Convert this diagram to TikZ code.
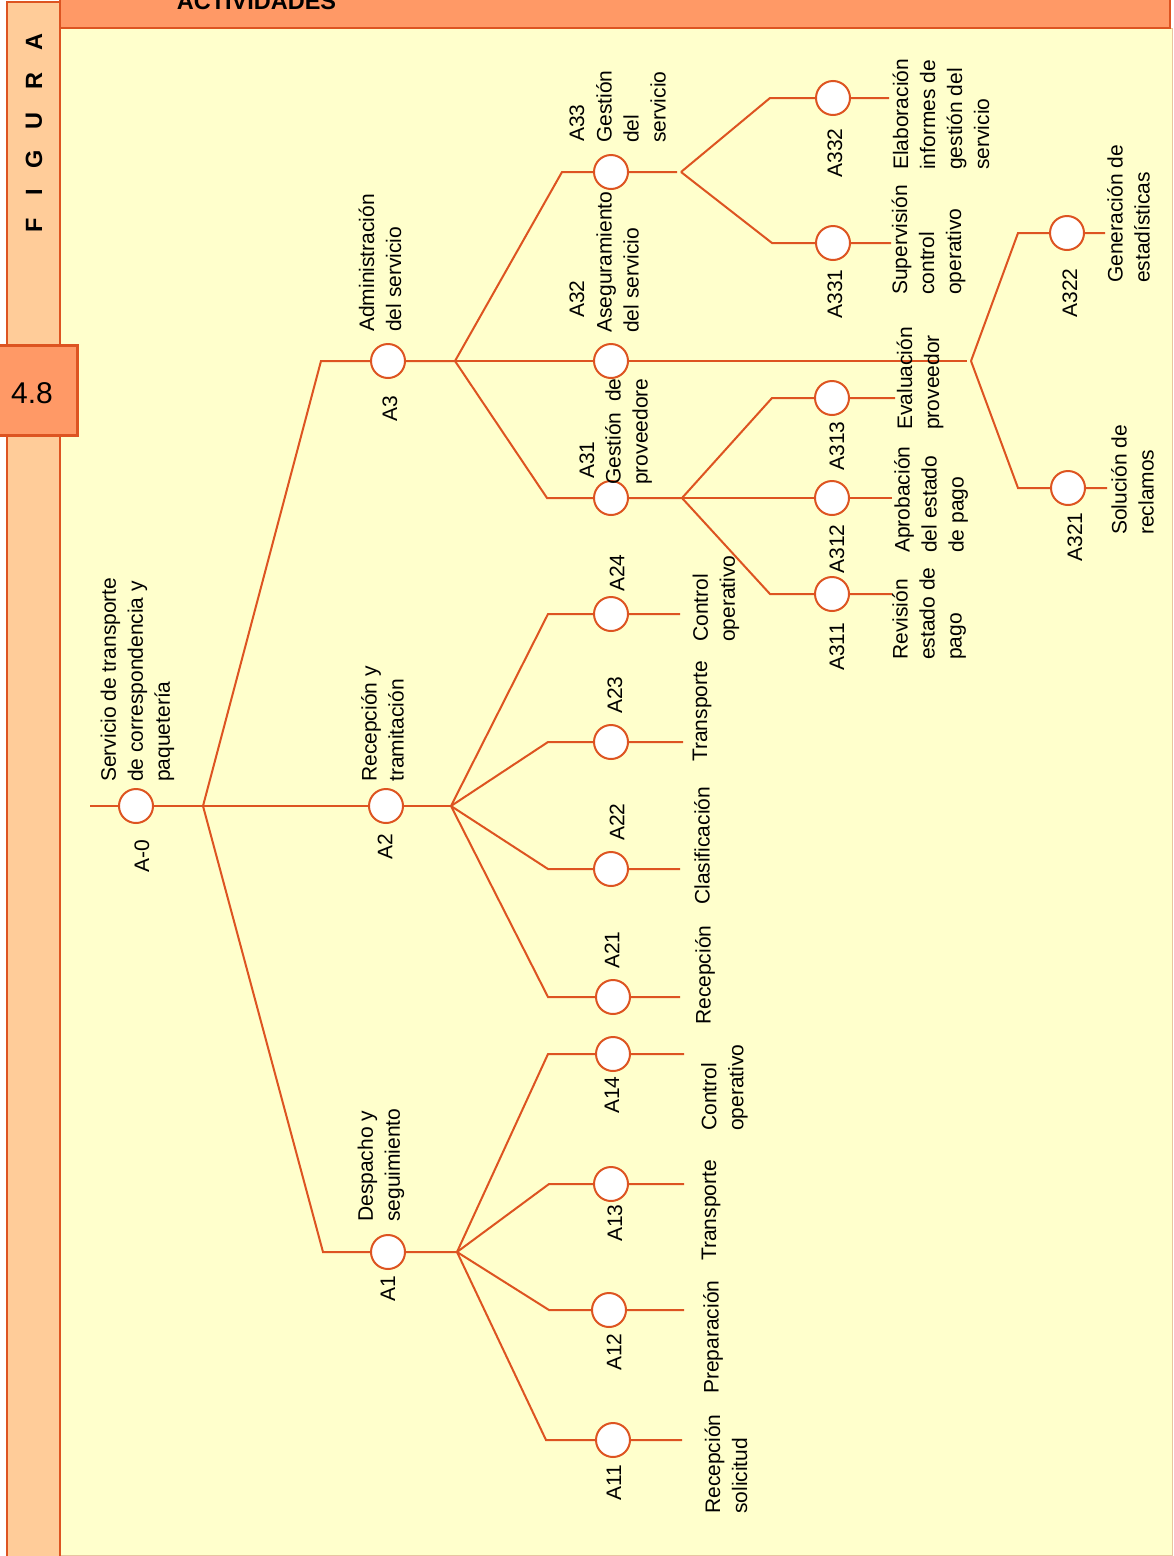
\documentclass[tikz,border=0pt]{standalone}
\usepackage{fontspec}
\setmainfont{Liberation Sans}
\definecolor{wire}{RGB}{221,84,33}
\definecolor{paper}{RGB}{255,255,204}
\definecolor{stripfill}{RGB}{255,204,153}
\definecolor{headfill}{RGB}{255,153,102}
\definecolor{rim}{RGB}{232,196,160}
\newlength\gdwidth
\tikzset{
  act/.style={circle, draw=wire, fill=white, line width=2pt, minimum size=34pt, inner sep=0pt},
  link/.style={draw=wire, line width=2pt},
  code/.style={rotate=90, inner sep=0pt, font=\fontsize{21}{27}\selectfont},
  desc/.style={rotate=90, anchor=west, align=left, inner sep=0pt, font=\fontsize{21}{27}\selectfont},
  letter/.style={rotate=90, inner sep=0pt, font=\fontsize{23.5}{28}\selectfont\bfseries},
}
\begin{document}
\begin{tikzpicture}[x=1pt,y=-1pt]
\useasboundingbox (0,0) rectangle (1174,1556);
\clip (0,0) rectangle (1174,1556);

% page, side strip and header band
\fill[white] (0,0) rectangle (1174,1556);
\path[fill=paper, draw=rim, line width=1pt] (60,28) rectangle (1172,1555);
\fill[stripfill] (7,2) rectangle (60,1560);
\draw[wire, line width=2.5pt] (7,1560) -- (7,2) -- (60,2) -- (60,1560);
\path[fill=headfill, draw=wire, line width=2.5pt] (60,-20) rectangle (1170,28);
\node[anchor=base, inner sep=0pt, font=\fontsize{23.5}{28}\selectfont\bfseries] (title) at (256.5,9) {ACTIVIDADES};

\node[letter] (lF) at (34,225) {F};
\node[letter] (lI) at (34,192) {I};
\node[letter] (lG) at (34,159) {G};
\node[letter] (lU) at (34,121) {U};
\node[letter] (lR) at (34,81) {R};
\node[letter] (lA) at (34,42) {A};

\path[fill=headfill, draw=wire, line width=3pt] (-5,345) rectangle (77,435);
\node[inner sep=0pt, font=\fontsize{30}{34}\selectfont] (fignum) at (32,393) {4.8};

% activity circles
\node[act] (a0) at (136,806) {};
\node[act] (a1) at (388,1252) {};
\node[act] (a2) at (386,806) {};
\node[act] (a3) at (388,361) {};
\node[act] (a11) at (613,1440) {};
\node[act] (a12) at (609,1310) {};
\node[act] (a13) at (611,1184) {};
\node[act] (a14) at (613,1054) {};
\node[act] (a21) at (613,997) {};
\node[act] (a22) at (611,869) {};
\node[act] (a23) at (611,742) {};
\node[act] (a24) at (611,614) {};
\node[act] (a31) at (611,498) {};
\node[act] (a32) at (611,361) {};
\node[act] (a33) at (611,172) {};
\node[act] (a311) at (832,594) {};
\node[act] (a312) at (832,498) {};
\node[act] (a313) at (832,398) {};
\node[act] (a321) at (1068,488) {};
\node[act] (a322) at (1067,233) {};
\node[act] (a331) at (833,243) {};
\node[act] (a332) at (833,98) {};

% branch points, corners and open ends
\coordinate (s0) at (90,806);
\coordinate (b0) at (203,806);
\coordinate (c3) at (321,361);
\coordinate (c1) at (323,1252);
\coordinate (b3) at (455,361);
\coordinate (b2) at (451,806);
\coordinate (b1) at (457,1252);
\coordinate (c14) at (548,1054); \coordinate (e14) at (684,1054);
\coordinate (c13) at (549,1184); \coordinate (e13) at (684,1184);
\coordinate (c12) at (549,1310); \coordinate (e12) at (684,1310);
\coordinate (c11) at (546,1440); \coordinate (e11) at (682,1440);
\coordinate (c24) at (548,614); \coordinate (e24) at (680,614);
\coordinate (c23) at (548,742); \coordinate (e23) at (683,742);
\coordinate (c22) at (548,869); \coordinate (e22) at (680,869);
\coordinate (c21) at (548,997); \coordinate (e21) at (680,997);
\coordinate (c33) at (562,172); \coordinate (e33) at (677,172); \coordinate (b33) at (681,172);
\coordinate (c332) at (770,98); \coordinate (e332) at (889,98);
\coordinate (c331) at (772,243); \coordinate (e331) at (891,243);
\coordinate (c31) at (547,498); \coordinate (b31) at (682,498);
\coordinate (c313) at (772,398); \coordinate (e313) at (895,398);
\coordinate (e312) at (892,498);
\coordinate (c311) at (770,594); \coordinate (e311) at (892,594);
\coordinate (e32) at (967,361); \coordinate (b32) at (971,361);
\coordinate (c322) at (1018,233); \coordinate (e322) at (1105,233);
\coordinate (c321) at (1018,488); \coordinate (e321) at (1107,488);

% connectors
\draw[link] (s0) -- (a0) -- (b0);
\draw[link] (b0) -- (c3) -- (a3) -- (b3);
\draw[link] (b0) -- (a2) -- (b2);
\draw[link] (b0) -- (c1) -- (a1) -- (b1);
\draw[link] (b1) -- (c14) -- (a14) -- (e14);
\draw[link] (b1) -- (c13) -- (a13) -- (e13);
\draw[link] (b1) -- (c12) -- (a12) -- (e12);
\draw[link] (b1) -- (c11) -- (a11) -- (e11);
\draw[link] (b2) -- (c24) -- (a24) -- (e24);
\draw[link] (b2) -- (c23) -- (a23) -- (e23);
\draw[link] (b2) -- (c22) -- (a22) -- (e22);
\draw[link] (b2) -- (c21) -- (a21) -- (e21);
\draw[link] (b3) -- (c33) -- (a33) -- (e33);
\draw[link] (b33) -- (c332) -- (a332) -- (e332);
\draw[link] (b33) -- (c331) -- (a331) -- (e331);
\draw[link] (b3) -- (a32) -- (e32);
\draw[link] (b32) -- (c322) -- (a322) -- (e322);
\draw[link] (b32) -- (c321) -- (a321) -- (e321);
\draw[link] (b3) -- (c31) -- (a31) -- (b31);
\draw[link] (b31) -- (c313) -- (a313) -- (e313);
\draw[link] (b31) -- (a312) -- (e312);
\draw[link] (b31) -- (c311) -- (a311) -- (e311);

% activity codes
\node[code] (k0) at (142,856) {A-0};
\node[code] (k2) at (385,847) {A2};
\node[code] (k3) at (390,409) {A3};
\node[code] (k1) at (388,1289) {A1};
\node[code] (k14) at (612,1095) {A14};
\node[code] (k13) at (615,1223) {A13};
\node[code] (k12) at (614,1352) {A12};
\node[code] (k11) at (614,1483) {A11};
\node[code] (k24) at (617,573) {A24};
\node[code] (k23) at (615,695) {A23};
\node[code] (k22) at (617,822) {A22};
\node[code] (k21) at (612,950) {A21};
\node[code] (k33) at (577,123) {A33};
\node[code] (k32) at (577,299) {A32};
\node[code] (k31) at (587,460) {A31};
\node[code] (k332) at (835,153) {A332};
\node[code] (k331) at (835,294) {A331};
\node[code] (k313) at (837,446) {A313};
\node[code] (k312) at (837,549) {A312};
\node[code] (k311) at (837,647) {A311};
\node[code] (k322) at (1070,293) {A322};
\node[code] (k321) at (1075,537) {A321};

% activity names
\node[desc] (d0) at (137.5,782) {Servicio de transporte\\de correspondencia y\\paquetería};
\node[desc] (d2) at (382.5,782) {Recepción y\\tramitación};
\node[desc] (d3) at (380,332) {Administración\\del servicio};
\node[desc] (d1) at (381,1222) {Despacho y\\seguimiento};
\node[desc] (d14) at (724.5,1131) {Control\\operativo};
\node[desc] (d13) at (711,1261) {Transporte};
\node[desc] (d12) at (713,1394) {Preparación};
\node[desc] (d11) at (726,1514) {Recepción\\solicitud};
\node[desc] (d24) at (716,642) {Control\\operativo};
\node[desc] (d23) at (702,762) {Transporte};
\node[desc] (d22) at (702,905) {Clasificación};
\node[desc] (d21) at (705,1025) {Recepción};
\node[desc] (d33) at (631,143) {Gestión\\del\\servicio};
\node[desc] (d32) at (617.5,333) {Aseguramiento\\del servicio};
\node[desc] (d31) at (628.5,485) {\settowidth{\gdwidth}{proveedore}\makebox[\gdwidth][s]{Gestión de}\\proveedore};
\node[desc] (d332) at (941,170) {Elaboración\\informes de\\gestión del\\servicio};
\node[desc] (d331) at (928.5,295) {Supervisión\\control\\operativo};
\node[desc] (d313) at (920,430) {Evaluación\\proveedor};
\node[desc] (d312) at (931,553) {Aprobación\\del estado\\de pago};
\node[desc] (d311) at (929,660) {Revisión\\estado de\\pago};
\node[desc] (d322) at (1128.5,283) {Generación de\\estadísticas};
\node[desc] (d321) at (1132.5,535) {Solución de\\reclamos};
\end{tikzpicture}
\end{document}
